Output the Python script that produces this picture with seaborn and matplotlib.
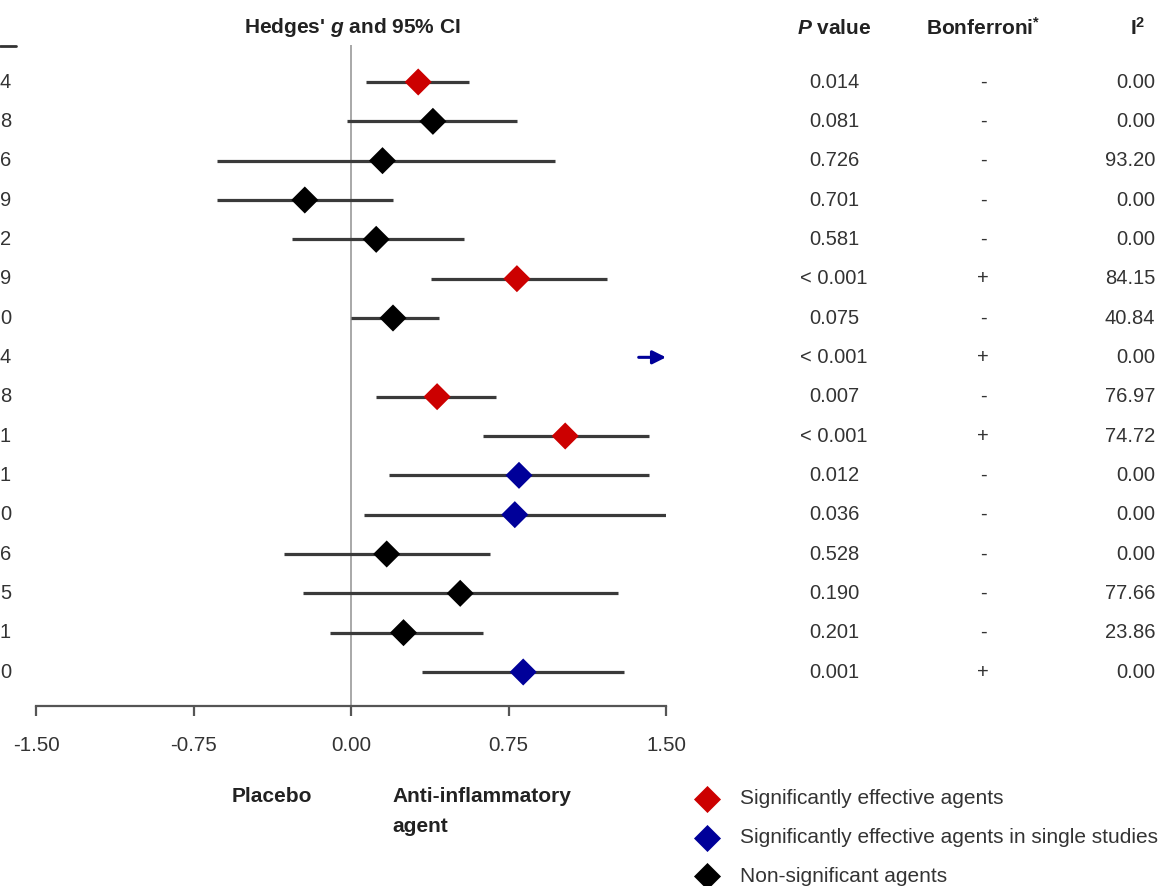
import numpy as np
import pandas as pd
import matplotlib
matplotlib.use("Agg")
import matplotlib.pyplot as plt
import matplotlib.transforms as mtransforms
import seaborn as sns

# ---- data -------------------------------------------------------------
hedges_g = [0.32, 0.39, 0.15, -0.22, 0.12, 0.79, 0.20, 2.06, 0.41, 1.02,
            0.80, 0.78, 0.17, 0.52, 0.25, 0.82]
ci_low = [0.07, -0.02, -0.64, -0.64, -0.28, 0.38, 0.00, 1.37, 0.12, 0.63,
          0.18, 0.06, -0.32, -0.23, -0.10, 0.34]
ci_high = [0.56, 0.79, 0.97, 0.20, 0.54, 1.22, 0.42, 2.75, 0.69, 1.42,
           1.42, 1.51, 0.66, 1.27, 0.63, 1.30]
groups = ["sig", "ns", "ns", "ns", "ns", "sig", "ns", "single", "sig", "sig",
          "single", "single", "ns", "ns", "ns", "single"]
p_values = ["0.014", "0.081", "0.726", "0.701", "0.581", "< 0.001", "0.075",
            "< 0.001", "0.007", "< 0.001", "0.012", "0.036", "0.528", "0.190",
            "0.201", "0.001"]
bonferroni = ["-", "-", "-", "-", "-", "+", "-", "+", "-", "+", "-", "-",
              "-", "-", "-", "+"]
i_squared = ["0.00", "0.00", "93.20", "0.00", "0.00", "84.15", "40.84", "0.00",
             "76.97", "74.72", "0.00", "0.00", "0.00", "77.66", "23.86", "0.00"]
left_digits = ["4", "8", "6", "9", "2", "9", "0", "4", "8", "1", "1", "0",
               "6", "5", "1", "0"]
x_ticks = [-1.50, -0.75, 0.00, 0.75, 1.50]
x_limits = (-1.50, 1.50)

group_colors = {"sig": "#CC0000", "single": "#000099", "ns": "#000000"}
legend_labels = [("sig", "Significantly effective agents"),
                 ("single", "Significantly effective agents in single studies"),
                 ("ns", "Non-significant agents")]

# ---- style ------------------------------------------------------------
sns.set_theme(style="white")
plt.rcParams["font.family"] = ["Liberation Sans", "DejaVu Sans"]
plt.rcParams["mathtext.fontset"] = "custom"
plt.rcParams["mathtext.rm"] = "Liberation Sans:bold"
plt.rcParams["mathtext.bf"] = "Liberation Sans:bold"
plt.rcParams["mathtext.it"] = "Liberation Sans:bold:italic"

W, H = 1173, 886
fig = plt.figure(figsize=(W / 100, H / 100), dpi=100)
fig.patch.set_facecolor("white")

# full-figure overlay in pixel coordinates for free-standing text
over = fig.add_axes([0, 0, 1, 1], zorder=0)
over.set_xlim(0, W)
over.set_ylim(H, 0)
over.axis("off")

# forest plot axes
ax_left, ax_right, ax_top, ax_bottom = 36, 666, 45, 706
ax = fig.add_axes([ax_left / W, 1 - ax_bottom / H,
                   (ax_right - ax_left) / W, (ax_bottom - ax_top) / H], zorder=2)
ax.patch.set_alpha(0)

rows = np.arange(1, len(hedges_g) + 1)
row_gap = (672 - 82) / (len(rows) - 1)
ax.set_xlim(*x_limits)
ax.set_ylim(len(rows) + (ax_bottom - 672) / row_gap, 1 - (82 - ax_top) / row_gap)

df = pd.DataFrame({"row": rows, "g": hedges_g, "lo": ci_low, "hi": ci_high,
                   "group": groups})
in_range = df[df["g"] <= x_limits[1]]
off_range = df[df["g"] > x_limits[1]]

# zero reference line
ax.axvline(0, color="#a8a8a8", lw=1.4, zorder=1)

# confidence intervals
ax.hlines(in_range["row"], in_range["lo"], in_range["hi"], color="#3a3a3a",
          lw=2.3, zorder=2)

# point estimates
sns.scatterplot(data=in_range, x="g", y="row", hue="group",
                palette=group_colors, marker="D", s=190, linewidth=0,
                legend=False, ax=ax, zorder=3, clip_on=False)

# estimates beyond the axis limit shown as arrows
for _, r in off_range.iterrows():
    ax.annotate("", xy=(x_limits[1], r["row"]), xytext=(r["lo"], r["row"]),
                arrowprops=dict(arrowstyle="-|>", color=group_colors[r["group"]],
                                lw=2.2, mutation_scale=20, shrinkA=0, shrinkB=0),
                annotation_clip=False, zorder=3)

# axis styling
for side in ("left", "top", "right"):
    ax.spines[side].set_visible(False)
ax.spines["bottom"].set_color("#555555")
ax.spines["bottom"].set_linewidth(1.6)
ax.set_xticks(x_ticks)
ax.set_xticklabels([f"{t:.2f}" for t in x_ticks])
ax.tick_params(axis="x", bottom=True, direction="out", length=7.5, width=1.6,
               color="#555555", pad=14, labelsize=14.8, labelcolor="#333333")
ax.set_yticks([])
ax.set_xlabel("")
ax.set_ylabel("")

# table columns next to the forest plot
tr = mtransforms.blended_transform_factory(over.transData, ax.transData)
for i, r in enumerate(rows):
    ax.text(834, r, p_values[i], transform=tr, ha="center", va="center",
            fontsize=14.5, color="#333333")
    ax.text(983, r, bonferroni[i], transform=tr, ha="center", va="center",
            fontsize=14.5, color="#333333")
    ax.text(1155, r, i_squared[i], transform=tr, ha="right", va="center",
            fontsize=14.5, color="#333333")
    ax.text(11, r, left_digits[i], transform=tr, ha="right", va="center",
            fontsize=14.5, color="#333333")

# headers
hdr = dict(fontsize=15, fontweight="bold", color="#222222", va="center")
over.text(352, 27, r"Hedges' $\mathit{g}$ and 95% CI", ha="center", **hdr)
over.text(834, 28, r"$\mathit{P}$ value", ha="center", **hdr)
over.text(983, 28, r"Bonferroni$^{*}$", ha="center", **hdr)
over.text(1138, 28, r"I$^{2}$", ha="center", **hdr)
over.plot([0, 16], [46, 46], color="#333333", lw=2)

# direction labels
over.text(272, 797, "Placebo", ha="center", **hdr)
over.text(392, 797, "Anti-inflammatory", ha="left", **hdr)
over.text(392, 827, "agent", ha="left", **hdr)

# legend
for k, (key, label) in enumerate(legend_labels):
    y = 799 + k * 38.5
    over.scatter([707], [y], marker="D", s=190, color=group_colors[key],
                 linewidth=0, clip_on=False)
    over.text(740, y, label, ha="left", va="center", fontsize=15,
              color="#333333")

fig.savefig("out.png", dpi=100, facecolor="white")
